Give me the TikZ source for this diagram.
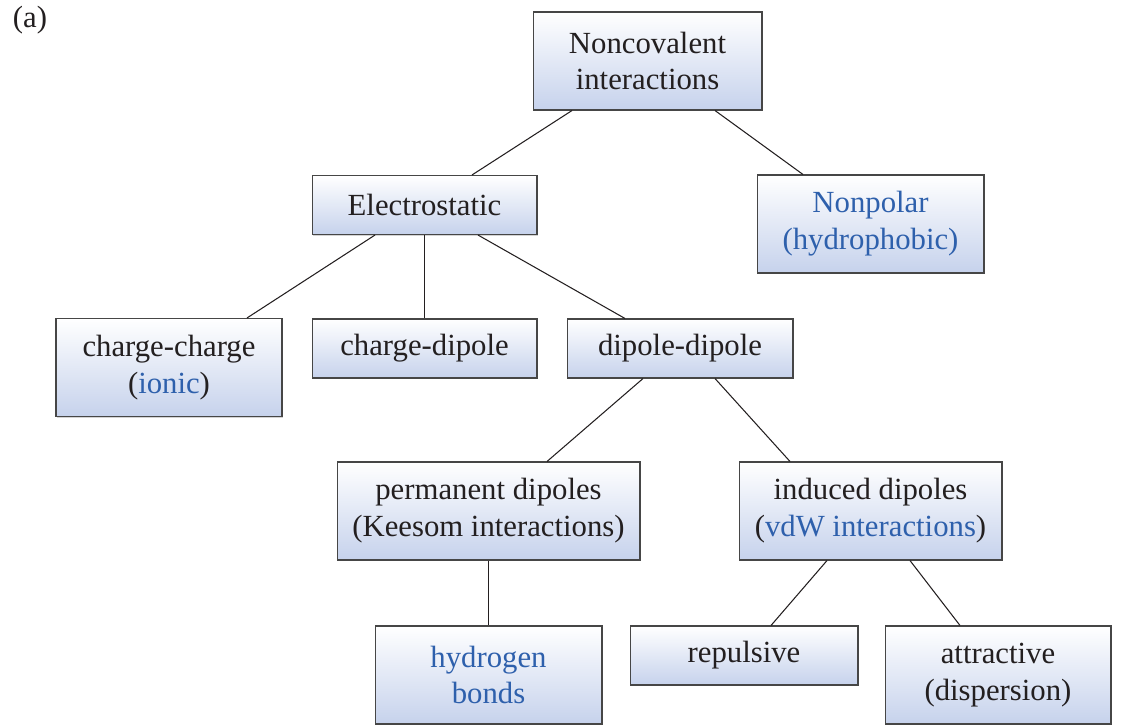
\documentclass[tikz,border=0pt]{standalone}
\usepackage{fontspec}
\setmainfont{Liberation Serif}
\usepackage{xcolor}
\definecolor{ncblue}{RGB}{46,96,172}
\definecolor{ncink}{RGB}{35,31,32}
\definecolor{ncfill}{RGB}{198,210,236}
\definecolor{ncedge}{RGB}{70,70,70}
\usetikzlibrary{shadows}

\tikzset{
  box/.style={draw=ncedge, line width=0.6pt, top color=white, bottom color=ncfill,
    drop shadow={shadow xshift=0.8pt, shadow yshift=-0.8pt, opacity=0.35},
    align=center, inner sep=0pt, text=ncink, font=\fontsize{17.5}{21}\selectfont,
    minimum width=4.52cm},
  tallbox/.style={box, minimum height=1.96cm},
  flatbox/.style={box, minimum height=1.18cm},
  link/.style={draw=ncink, line width=0.6pt}
}
\newcommand{\hl}[1]{\textcolor{ncblue}{#1}}

\begin{document}
\begin{tikzpicture}[x=0.02cm, y=-0.02cm]
  \useasboundingbox (0,0) rectangle (1121,724);
  \node[text=ncink, font=\fontsize{17.5}{21}\selectfont] (tag) at (30,20) {(a)};

  % top level
  \node[tallbox, minimum width=4.58cm] (nc) at (647.5,61) {Noncovalent\\interactions};
  \node[flatbox, minimum width=4.5cm] (el) at (424.5,205) {Electrostatic};
  \node[tallbox, minimum width=4.54cm] (np) at (870.5,224) {\hl{Nonpolar}\\\hl{(hydrophobic)}};

  % electrostatic branch
  \node[tallbox] (cc) at (169,367.5) {charge-charge\\(\hl{ionic})};
  \node[flatbox, minimum width=4.5cm] (cd) at (424.5,348.5) {charge-dipole};
  \node[flatbox] (dd) at (680,348.5) {dipole-dipole};

  % dipole-dipole branch
  \node[tallbox, minimum width=6.06cm] (pd) at (488.5,511) {permanent dipoles\\(Keesom interactions)};
  \node[tallbox, minimum width=5.26cm] (id) at (870.5,511) {induced dipoles\\(\hl{vdW interactions})};

  % bottom row
  \node[tallbox, minimum width=4.54cm] (hb) at (488.5,675) {\hl{hydrogen}\\\hl{bonds}};
  \node[flatbox, minimum width=4.56cm] (rp) at (744,655.5) {repulsive};
  \node[tallbox] (at) at (998,675) {attractive\\(dispersion)};

  % connectors
  \draw[link] ([xshift=-1.51cm]nc.south) -- ([xshift=0.95cm]el.north);
  \draw[link] ([xshift=1.35cm]nc.south) -- ([xshift=-1.35cm]np.north);
  \draw[link] ([xshift=-0.99cm]el.south) -- ([xshift=1.56cm]cc.north);
  \draw[link] (el.south) -- (cd.north);
  \draw[link] ([xshift=1.07cm]el.south) -- ([xshift=-1.1cm]dd.north);
  \draw[link] ([xshift=-0.74cm]dd.south) -- ([xshift=1.17cm]pd.north);
  \draw[link] ([xshift=0.7cm]dd.south) -- ([xshift=-1.61cm]id.north);
  \draw[link] (pd.south) -- (hb.north);
  \draw[link] ([xshift=-0.87cm]id.south) -- ([xshift=0.54cm]rp.north);
  \draw[link] ([xshift=0.79cm]id.south) -- ([xshift=-0.76cm]at.north);
\end{tikzpicture}
\end{document}
